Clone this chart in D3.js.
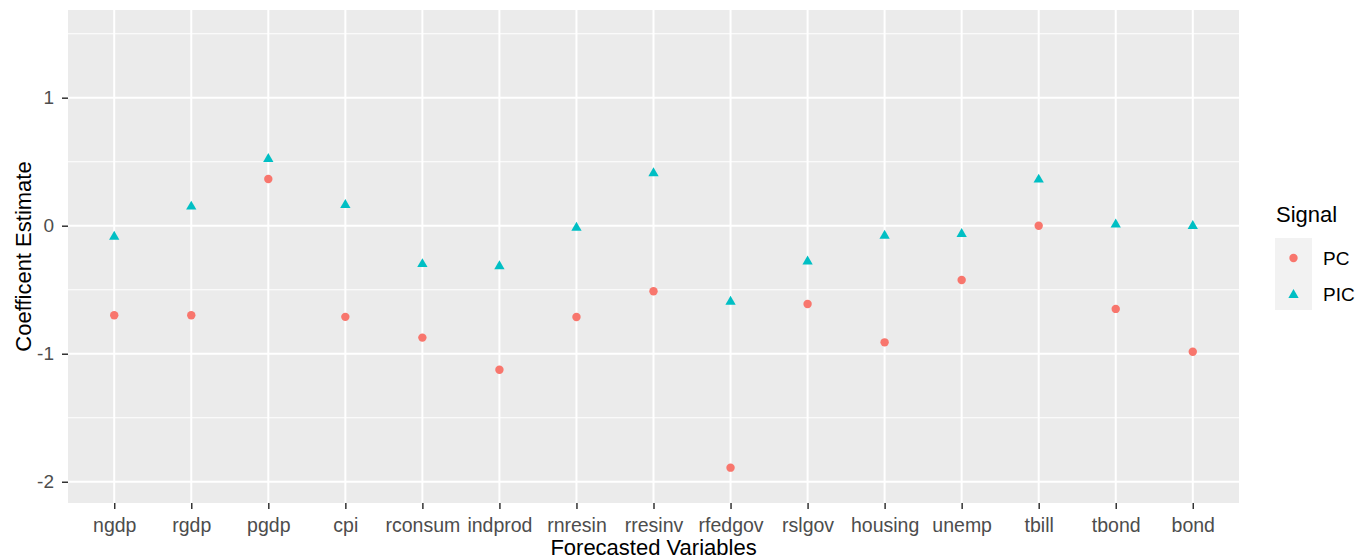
<!DOCTYPE html>
<html lang="en">
<head>
  <meta charset="UTF-8">
  <title>Coefficient Estimates</title>
  <style>
    body, html {
      margin: 0;
      padding: 0;
      background: #ffffff;
    }
    text {
      font-family: Arial, "Liberation Sans", sans-serif;
    }
  </style>
</head>
<body>
  <svg id="svg" width="1356" height="560"></svg>
  <script src="https://d3js.org/d3.v7.min.js"></script>
  <script>
    // Data
    const categories = ["ngdp", "rgdp", "pgdp", "cpi", "rconsum", "indprod", "rnresin", "rresinv",
      "rfedgov", "rslgov", "housing", "unemp", "tbill", "tbond", "bond"]
    const pcValues = [-0.70, -0.70, 0.365, -0.712, -0.874, -1.125, -0.713, -0.512,
      -1.89, -0.612, -0.911, -0.424, 0.0, -0.650, -0.984]
    const picValues = [-0.086, 0.149, 0.521, 0.162, -0.30, -0.316, -0.016, 0.41,
      -0.594, -0.28, -0.078, -0.065, 0.36, 0.01, -0.002]
    const yTicks = [-2, -1, 0, 1]
    const yMinorTicks = [-1.5, -0.5, 0.5, 1.5]
    const signals = ["PC", "PIC"]
    const signalColors = ["#F8766D", "#00BFC4"]

    const width = 1356
    const height = 560
    const panel = { left: 68, right: 1239, top: 10, bottom: 503 }

    const svg = d3.select("#svg")

    // Scales
    const x = d3.scalePoint()
      .domain(categories)
      .range([panel.left, panel.right])
      .padding(0.6)

    const y = d3.scaleLinear()
      .domain([-2.166, 1.685])
      .range([panel.bottom, panel.top])

    const color = d3.scaleOrdinal().domain(signals).range(signalColors)

    // Panel background
    svg.append('rect')
      .attr('x', panel.left)
      .attr('y', panel.top)
      .attr('width', panel.right - panel.left)
      .attr('height', panel.bottom - panel.top)
      .attr('fill', '#ebebeb')

    // Grid lines
    const grid = svg.append('g')
    grid.selectAll('.minor')
      .data(yMinorTicks)
      .enter()
      .append('line')
      .attr('x1', panel.left)
      .attr('x2', panel.right)
      .attr('y1', d => y(d))
      .attr('y2', d => y(d))
      .attr('stroke', '#ffffff')
      .attr('stroke-width', 1.1)

    grid.selectAll('.major')
      .data(yTicks)
      .enter()
      .append('line')
      .attr('x1', panel.left)
      .attr('x2', panel.right)
      .attr('y1', d => y(d))
      .attr('y2', d => y(d))
      .attr('stroke', '#ffffff')
      .attr('stroke-width', 2)

    grid.selectAll('.vert')
      .data(categories)
      .enter()
      .append('line')
      .attr('x1', d => x(d))
      .attr('x2', d => x(d))
      .attr('y1', panel.top)
      .attr('y2', panel.bottom)
      .attr('stroke', '#ffffff')
      .attr('stroke-width', 2)

    // Axes
    const xAxis = svg.append('g')
      .attr('transform', `translate(0, ${panel.bottom})`)
      .call(d3.axisBottom(x).tickSize(6).tickPadding(9))
    xAxis.select('.domain').remove()
    xAxis.selectAll('.tick line').attr('stroke', '#333333').attr('stroke-width', 1.5)
    xAxis.selectAll('.tick text')
      .attr('font-size', 19.5)
      .attr('font-family', 'Arial, "Liberation Sans", sans-serif')
      .attr('fill', '#4d4d4d')

    const yAxis = svg.append('g')
      .attr('transform', `translate(${panel.left}, 0)`)
      .call(d3.axisLeft(y).tickValues(yTicks).tickFormat(d => String(d)).tickSize(6).tickPadding(8))
    yAxis.select('.domain').remove()
    yAxis.selectAll('.tick line').attr('stroke', '#333333').attr('stroke-width', 1.5)
    yAxis.selectAll('.tick text')
      .attr('font-size', 19)
      .attr('font-family', 'Arial, "Liberation Sans", sans-serif')
      .attr('fill', '#4d4d4d')

    // Axis titles
    svg.append('text')
      .text('Forecasted Variables')
      .attr('x', (panel.left + panel.right) / 2)
      .attr('y', 555)
      .attr('text-anchor', 'middle')
      .attr('font-size', 22)
      .attr('fill', '#000000')

    svg.append('text')
      .text('Coefficent Estimate')
      .attr('transform', `translate(31, ${(panel.top + panel.bottom) / 2}) rotate(-90)`)
      .attr('text-anchor', 'middle')
      .attr('font-size', 22)
      .attr('fill', '#000000')

    // Points
    const points = svg.append('g')
    points.selectAll('circle')
      .data(categories.map((c, i) => ({ cat: c, value: pcValues[i] })))
      .enter()
      .append('circle')
      .attr('cx', d => x(d.cat))
      .attr('cy', d => y(d.value))
      .attr('r', 4.2)
      .attr('fill', color("PC"))

    const triangle = d3.symbol().type(d3.symbolTriangle).size(46)
    points.selectAll('path')
      .data(categories.map((c, i) => ({ cat: c, value: picValues[i] })))
      .enter()
      .append('path')
      .attr('d', triangle)
      .attr('transform', d => `translate(${x(d.cat)}, ${y(d.value)})`)
      .attr('fill', color("PIC"))

    // Legend
    const legend = svg.append('g')
    legend.append('text')
      .text('Signal')
      .attr('x', 1276)
      .attr('y', 222)
      .attr('font-size', 22)
      .attr('fill', '#000000')

    const keys = legend.selectAll('.key')
      .data(signals)
      .enter()
      .append('g')
      .attr('transform', (d, i) => `translate(1275, ${238 + i * 36})`)

    keys.append('rect')
      .attr('width', 37)
      .attr('height', 36)
      .attr('fill', '#f2f2f2')

    keys.filter(d => d === "PC")
      .append('circle')
      .attr('cx', 18.5)
      .attr('cy', 20)
      .attr('r', 4.2)
      .attr('fill', d => color(d))

    keys.filter(d => d === "PIC")
      .append('path')
      .attr('d', triangle)
      .attr('transform', 'translate(18.5, 21)')
      .attr('fill', d => color(d))

    keys.append('text')
      .text(d => d)
      .attr('x', 48)
      .attr('y', 27)
      .attr('font-size', 19)
      .attr('fill', '#000000')
  </script>
</body>
</html>
